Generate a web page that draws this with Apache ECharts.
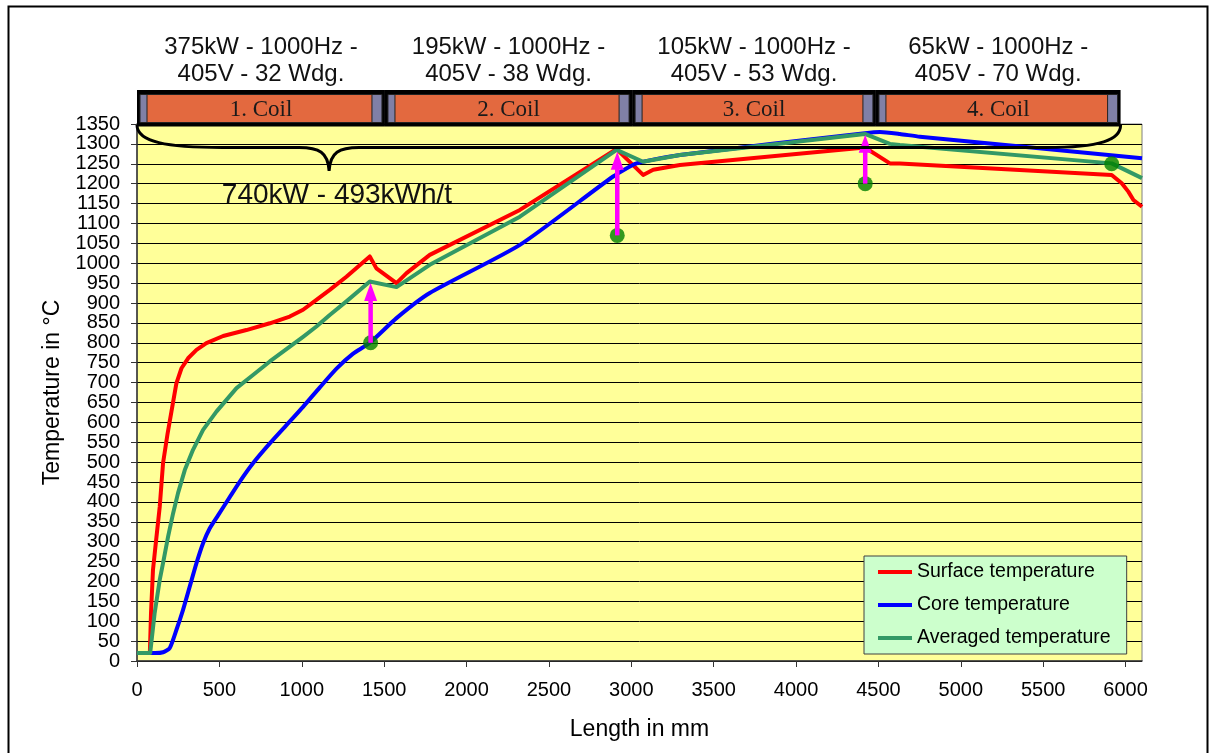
<!DOCTYPE html>
<html><head><meta charset="utf-8">
<script src="https://cdn.jsdelivr.net/npm/echarts@6/dist/echarts.min.js"></script>
<style>html,body{margin:0;padding:0;background:#fff}#c{width:1211px;height:753px}</style>
</head><body><div id="c"></div>
<script>
// ---- data (length in mm, temperature in °C) ----
const surfaceData = [[0,20],[78,20],[85,120],[97,229],[115,300],[138,388],[158,497],[185,570],[209,627],[239,698],[270,736],[310,761],[361,782],[421,799],[523,817],[664,832],[806,849],[927,866],[1008,883],[1089,908],[1170,933],[1271,966],[1413,1017],[1453,987],[1575,950],[1636,975],[1777,1021],[2324,1134],[2911,1287],[3072,1222],[3133,1235],[3295,1247],[4418,1291],[4570,1251],[4630,1251],[5916,1222],[5977,1201],[6017,1180],[6048,1159],[6100,1142]];
const coreData = [[0,20],[110,20],[158,22],[198,32],[239,78],[279,128],[320,187],[361,246],[401,296],[441,333],[492,366],[563,412],[624,451],[704,497],[806,547],[907,593],[1008,639],[1110,688],[1211,735],[1310,772],[1413,800],[1575,862],[1777,925],[2324,1046],[2890,1218],[3032,1251],[3295,1272],[4418,1327],[4509,1330],[4630,1325],[4752,1318],[6100,1264]];
const averagedData = [[0,20],[80,20],[107,120],[138,204],[158,246],[189,313],[219,371],[249,422],[290,480],[340,531],[401,581],[482,627],[604,686],[704,719],[806,753],[907,784],[1008,815],[1089,841],[1170,870],[1271,904],[1413,954],[1575,940],[1777,996],[2324,1117],[2911,1285],[3072,1255],[3295,1272],[4418,1325],[4570,1300],[4630,1297],[5916,1251],[6100,1214]];
const dotData = [[1418,800],[2915,1070],[4420,1200],[5916,1250]];
const arrowX = [1418, 2915, 4420];
const arrowFrom = [800, 1070, 1200];
const arrowTo = [950, 1280, 1323];
const coilStart = [0, 1505, 3005, 4485];
const coilEnd = [1505, 3005, 4485, 5970];
const coilLabels = ['1. Coil', '2. Coil', '3. Coil', '4. Coil'];
const headerLine1 = ['375kW - 1000Hz -', '195kW - 1000Hz -', '105kW - 1000Hz -', '65kW - 1000Hz -'];
const headerLine2 = ['405V - 32 Wdg.', '405V - 38 Wdg.', '405V - 53 Wdg.', '405V - 70 Wdg.'];
const braceSpan = [0, 5970, 1166];
const braceText = '740kW - 493kWh/t';
const seriesNames = ['Surface temperature', 'Core temperature', 'Averaged temperature'];
const xTicks = {min: 0, max: 6100, interval: 500};
const yTicks = {min: 0, max: 1350, interval: 50};

const FONT = '"Liberation Sans", Arial, sans-serif';
const chart = echarts.init(document.getElementById('c'), null, {renderer: 'canvas'});

function coilRender(params, api) {
  const s = api.value(0), e = api.value(1), i = api.value(2);
  const top = api.coord([0, yTicks.max])[1];
  const x0 = api.coord([s, 0])[0], x1 = api.coord([e, 0])[0];
  const yb0 = top - 34, yb1 = top + 2.5;
  const capL = 7, capR = 10;
  const cx = (x0 + x1) / 2;
  return {
    type: 'group',
    children: [
      {type: 'rect', shape: {x: x0, y: yb0, width: x1 - x0, height: yb1 - yb0}, style: {fill: '#000'}},
      {type: 'rect', shape: {x: x0 + 3, y: yb0 + 4.5, width: x1 - x0 - 6, height: yb1 - yb0 - 8.5}, style: {fill: '#8080a6', stroke: '#222', lineWidth: 1}},
      {type: 'rect', shape: {x: x0 + 3 + capL, y: yb0 + 4.5, width: x1 - x0 - 6 - capL - capR, height: yb1 - yb0 - 8.5}, style: {fill: '#e3693f', stroke: '#222', lineWidth: 1}},
      {type: 'text', style: {text: coilLabels[i], x: cx, y: (yb0 + yb1) / 2 + 1.5, align: 'center', verticalAlign: 'middle', font: '23px "Liberation Serif", "Times New Roman", serif', fill: '#1a1a1a'}},
      {type: 'text', style: {text: headerLine1[i], x: cx, y: top - 77, align: 'center', verticalAlign: 'middle', font: '24px ' + FONT, fill: '#111'}},
      {type: 'text', style: {text: headerLine2[i], x: cx, y: top - 50, align: 'center', verticalAlign: 'middle', font: '24px ' + FONT, fill: '#111'}}
    ]
  };
}

function braceRender(params, api) {
  const top = api.coord([0, yTicks.max])[1] + 1;
  const xa = api.coord([api.value(0), 0])[0];
  const xb = api.coord([api.value(1), 0])[0];
  const xt = api.coord([api.value(2), 0])[0];
  const ly = top + 22.5, ty = top + 46;
  const d = 'M' + xa + ' ' + top +
    ' C' + xa + ' ' + (top + 17) + ' ' + (xa + 30) + ' ' + ly + ' ' + (xa + 85) + ' ' + ly +
    ' L' + (xt - 30) + ' ' + ly +
    ' C' + (xt - 10) + ' ' + ly + ' ' + (xt - 1) + ' ' + (ly + 5) + ' ' + xt + ' ' + ty +
    ' C' + (xt + 1) + ' ' + (ly + 5) + ' ' + (xt + 10) + ' ' + ly + ' ' + (xt + 30) + ' ' + ly +
    ' L' + (xb - 75) + ' ' + ly +
    ' C' + (xb - 20) + ' ' + ly + ' ' + xb + ' ' + (top + 15) + ' ' + xb + ' ' + top;
  const tx = api.coord([515, 0])[0];
  return {
    type: 'group',
    children: [
      {type: 'path', shape: {pathData: d}, style: {fill: null, stroke: '#000', lineWidth: 3}},
      {type: 'text', style: {text: braceText, x: tx, y: top + 70, align: 'left', verticalAlign: 'middle', font: '28px ' + FONT, fill: '#111'}}
    ]
  };
}

function arrowRender(params, api) {
  const p0 = api.coord([api.value(0), api.value(1)]);
  const p1 = api.coord([api.value(0), api.value(2)]);
  const headLen = 18, headW = 6.5;
  return {
    type: 'group',
    children: [
      {type: 'line', shape: {x1: p0[0], y1: p0[1], x2: p1[0], y2: p1[1] + headLen - 1}, style: {stroke: '#ff00ff', lineWidth: 4.5}},
      {type: 'polygon', shape: {points: [[p1[0], p1[1]], [p1[0] - headW, p1[1] + headLen], [p1[0] + headW, p1[1] + headLen]]}, style: {fill: '#ff00ff'}}
    ]
  };
}

const plain = v => String(v);

const option = {
  backgroundColor: '#fff',
  animation: false,
  textStyle: {fontFamily: FONT},
  graphic: [{type: 'rect', left: 6, top: 4, shape: {width: 1199, height: 800}, style: {fill: null, stroke: '#000', lineWidth: 2}, z: -10}],
  grid: {left: 137, right: 69, top: 124, bottom: 92, show: true, backgroundColor: '#ffff99', borderColor: '#808080', borderWidth: 1},
  legend: {
    data: seriesNames, orient: 'vertical', left: 864, top: 556,
    backgroundColor: '#ccffcc', borderColor: '#404040', borderWidth: 1,
    padding: [6, 16, 6, 14], itemGap: 13, itemWidth: 34, itemHeight: 4, icon: 'rect',
    textStyle: {fontSize: 19.5, color: '#000', fontFamily: FONT}
  },
  xAxis: {
    type: 'value', min: xTicks.min, max: xTicks.max, interval: xTicks.interval,
    name: 'Length in mm', nameLocation: 'middle', nameGap: 57,
    nameTextStyle: {fontSize: 23, color: '#000', fontFamily: FONT},
    axisLine: {show: true, lineStyle: {color: '#333', width: 1.5}},
    axisTick: {show: true, length: 6, lineStyle: {color: '#333'}},
    axisLabel: {fontSize: 20, color: '#000', margin: 19, showMaxLabel: false, fontFamily: FONT, formatter: plain},
    splitLine: {show: false}
  },
  yAxis: {
    type: 'value', min: yTicks.min, max: yTicks.max, interval: yTicks.interval,
    name: 'Temperature in °C', nameLocation: 'middle', nameRotate: 90, nameGap: 72,
    nameTextStyle: {fontSize: 23, color: '#000', fontFamily: FONT},
    axisLine: {show: true, lineStyle: {color: '#333', width: 1.5}},
    axisTick: {show: true, length: 6, lineStyle: {color: '#333'}},
    axisLabel: {fontSize: 20, color: '#000', margin: 17, fontFamily: FONT, formatter: plain},
    splitLine: {show: true, lineStyle: {color: '#000', width: 1}}
  },
  series: [
    {name: seriesNames[0], type: 'line', data: surfaceData, symbol: 'none', lineStyle: {color: '#ff0000', width: 4, join: 'round'}, itemStyle: {color: '#ff0000'}, z: 3},
    {name: seriesNames[1], type: 'line', data: coreData, symbol: 'none', smooth: 0.2, lineStyle: {color: '#0000ff', width: 4, join: 'round'}, itemStyle: {color: '#0000ff'}, z: 4},
    {name: seriesNames[2], type: 'line', data: averagedData, symbol: 'none', lineStyle: {color: '#339966', width: 4, join: 'round'}, itemStyle: {color: '#339966'}, z: 5},
    {name: 'points', type: 'scatter', data: dotData, symbol: 'circle', symbolSize: 15, itemStyle: {color: '#008000'}, z: 6},
    {name: 'arrows', type: 'custom', renderItem: arrowRender, clip: false, z: 7,
      data: arrowX.map((x, i) => [x, arrowFrom[i], arrowTo[i]]), encode: {x: 0, y: [1, 2]}},
    {name: 'brace', type: 'custom', renderItem: braceRender, clip: false, z: 8,
      data: [braceSpan], encode: {x: [0, 1], y: 2}},
    {name: 'coils', type: 'custom', renderItem: coilRender, clip: false, z: 9,
      data: coilStart.map((s, i) => [s, coilEnd[i], i]), encode: {x: [0, 1], y: 2}}
  ]
};
chart.setOption(option);
</script></body></html>
